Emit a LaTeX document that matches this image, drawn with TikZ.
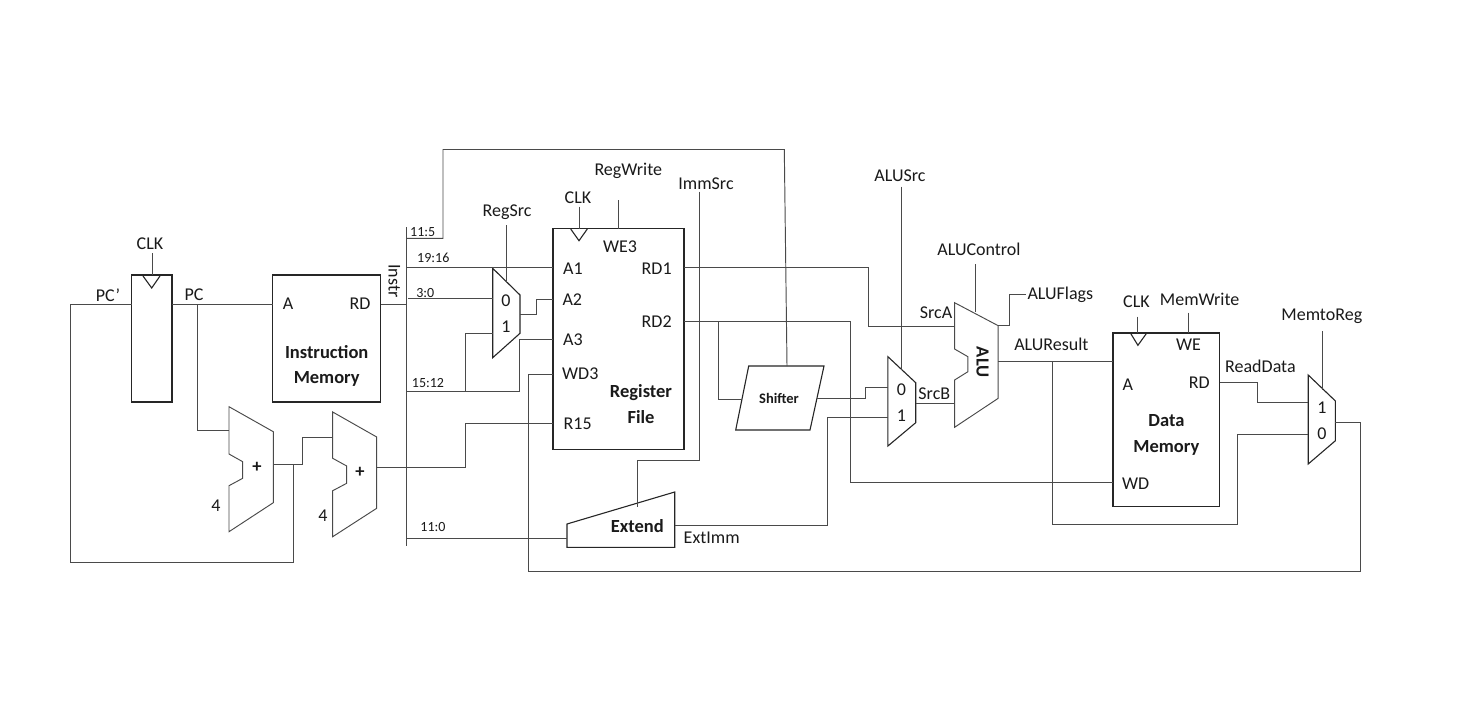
\documentclass[tikz,border=0pt]{standalone}
\usepackage{fontspec}
\setmainfont{Carlito}
\definecolor{wirec}{HTML}{4A4A4A}
\definecolor{boxc}{HTML}{262626}
\definecolor{txtc}{HTML}{1A1A1A}
\tikzset{
  wire/.style={draw=wirec,line width=0.95pt,line join=miter},
  regbox/.style={draw=boxc,line width=1.3pt,inner sep=0pt,outer sep=0pt,anchor=north west},
  outline/.style={draw=boxc,line width=1.1pt,line join=miter},
  lab/.style={inner sep=0pt,outer sep=0pt,text=txtc,font=\fontsize{18}{20}\selectfont},
  tiny lab/.style={inner sep=0pt,outer sep=0pt,text=txtc,font=\fontsize{14}{16}\selectfont},
  boldlab/.style={inner sep=0pt,outer sep=0pt,text=txtc,font=\fontsize{18.5}{20}\selectfont\bfseries},
}
\begin{document}
\begin{tikzpicture}[x=1pt,y=-1pt]
\useasboundingbox[fill=white] (0,0) rectangle (1469,720);

% ---- rectangular blocks
\node[regbox,minimum width=40.5pt,minimum height=127pt] (pcreg) at (131.5,275) {};
\node[regbox,minimum width=108pt,minimum height=127pt] (imem) at (272.7,275) {};
\node[regbox,minimum width=131pt,minimum height=221pt] (rf) at (553,228.5) {};
\node[regbox,minimum width=106.6pt,minimum height=173.7pt] (dmem) at (1113,333) {};

% ---- clock triangles
\draw[outline] (143,276) -- (151.7,288) -- (160,276);
\draw[outline] (570.7,229) -- (579,240.7) -- (587.3,229);
\draw[outline] (1130.7,333.5) -- (1137.9,345.3) -- (1146.4,333.5);

% ---- multiplexers
\draw[outline] (492.7,268.3) -- (520,295) -- (520,333.3) -- (492.7,357.7) -- cycle;
\draw[outline] (887.9,356.7) -- (915.7,382.7) -- (915.7,422.7) -- (887.9,446) -- cycle;
\draw[outline] (1308.2,375) -- (1335.4,401) -- (1335.4,440.7) -- (1308.2,464) -- cycle;

% ---- adders and ALU
\draw[wire] (229,406.7) -- (273.3,431.7) -- (273.3,502.7) -- (229,531.7) -- (229,485.7) -- (242.7,478.3) -- (242.7,461.7) -- (229,454) -- cycle;
\draw[wire] (332.7,412) -- (376.7,437) -- (376.7,508.3) -- (332.7,536.7) -- (332.7,490.7) -- (346.7,483.3) -- (346.7,466) -- (332.7,458.3) -- cycle;
\draw[wire] (954.6,302.7) -- (998.2,325.7) -- (998.2,398.3) -- (954.6,427.3) -- (954.6,380) -- (967.9,371.7) -- (967.9,356.7) -- (954.6,349) -- cycle;

% ---- shifter and extend
\draw[outline] (748.7,366) -- (824,366) -- (810,430) -- (735.7,430) -- cycle;
\draw[outline] (567,524) -- (674.7,492) -- (674.7,547.3) -- (567,547.3) -- cycle;

% ---- connector end points
\coordinate (add1in) at (229,430);
\coordinate (add1out) at (273.3,464.3);
\coordinate (add2in) at (332.7,437.7);
\coordinate (add2out) at (376.7,467.7);
\coordinate (busTop) at (406,227);
\coordinate (busBot) at (406,546);
\coordinate (pcclkTop) at (152,253);
\coordinate (rfclkTop) at (579,206.7);
\coordinate (dmclkTop) at (1137,316.7);
\coordinate (weTop) at (618,200);
\coordinate (memwrTop) at (1188.6,312.7);
\coordinate (regsrcTop) at (506.7,225);
\coordinate (regsrcBot) at (506.7,281.7);
\coordinate (alusrcTop) at (901.4,186.7);
\coordinate (alusrcBot) at (901.4,370);
\coordinate (aluctlTop) at (975.7,264.3);
\coordinate (aluctlBot) at (975.7,311.7);
\coordinate (m2rTop) at (1322.9,331);
\coordinate (m2rBot) at (1322.9,390);
\coordinate (immTop) at (699.7,191.7);
\coordinate (extTop) at (637.7,506.7);
\coordinate (shTop) at (787,366);
\coordinate (shIn) at (742,399);
\coordinate (shOut) at (817,398);
\coordinate (extOut) at (674.7,525.7);
\coordinate (extIn) at (567,538.3);
\coordinate (mux1Out) at (520,314.3);
\coordinate (mux2Out) at (915.7,403.7);
\coordinate (mux3Out) at (1335.4,422);
\coordinate (aluA) at (954.6,326);
\coordinate (aluB) at (954.6,403.7);
\coordinate (aluOut) at (998.2,361.3);
\coordinate (aluFlagOut) at (998.2,325);

% ---- wires
\draw[wire] (pcreg.east|-0,304) -- (imem.west|-0,304);
\draw[wire] (pcreg.west|-0,304) -- (70.7,304) |- (293.3,562.7) -- (293.3,464.3);
\draw[wire] (197,304) |- (add1in);
\draw[wire] (add1out) -- (302.3,464.3) |- (add2in);
\draw[wire] (add2out) -- (465.7,467.7) |- (rf.west|-0,423.5);
\draw[wire] (pcclkTop) -- (pcclkTop|-pcreg.north);
\draw[wire] (imem.east|-0,304) -- (busTop|-0,304);
\draw[wire] (busTop) -- (busBot);
\draw[wire] (busTop|-0,238.3) -| (443,149.5) -- (784.3,149.5) -- (shTop);
\draw[wire] (busTop|-0,267.3) -- (rf.west|-0,267.3);
\draw[wire] (408,298.7) -- (492.7,298.7);
\draw[wire] (busTop|-0,391) -- (519.3,391) |- (rf.west|-0,339.3);
\draw[wire] (465.7,391) |- (492.7,333.3);
\draw[wire] (mux1Out) -- (536.7,314.3) |- (rf.west|-0,299);
\draw[wire] (regsrcTop) -- (regsrcBot);
\draw[wire] (rfclkTop) -- (rfclkTop|-rf.north);
\draw[wire] (weTop) -- (rf.north-|weTop);
\draw[wire] (rf.west|-0,374) -- (528.7,374) |- (1360.4,571) |- (mux3Out);
\draw[wire] (busTop|-0,538.3) -- (extIn);
\draw[wire] (immTop) -- (699.7,460.7) -| (extTop);
\draw[wire] (rf.east|-0,267.3) -- (868.6,267.3) |- (aluA);
\draw[wire] (rf.east|-0,321) -- (850.4,321) |- (dmem.west|-0,482.7);
\draw[wire] (718,321) |- (shIn);
\draw[wire] (shOut) -- (865.7,398) |- (887.9,387.3);
\draw[wire] (extOut) -- (827,525.7) |- (887.9,417.3);
\draw[wire] (alusrcTop) -- (alusrcBot);
\draw[wire] (mux2Out) -- (aluB);
\draw[wire] (aluctlTop) -- (aluctlBot);
\draw[wire] (aluFlagOut) -- (1009.3,325) |- (1026.4,294.3);
\draw[wire] (aluOut) -- (dmem.west|-0,361.3);
\draw[wire] (1052.9,361.3) |- (1237.9,524) |- (1308.2,434);
\draw[wire] (dmclkTop) -- (dmclkTop|-dmem.north);
\draw[wire] (memwrTop) -- (dmem.north-|memwrTop);
\draw[wire] (dmem.east|-0,382) -- (1257,382) |- (1308.2,402.7);
\draw[wire] (m2rTop) -- (m2rBot);

% ---- labels
\node[lab] (lclk1) at (150,244) {CLK};
\node[lab] (lpcp) at (108,295) {PC’};
\node[lab] (lpc) at (194,295) {PC};
\node[lab] (limA) at (288,304) {A};
\node[lab] (limRD) at (360,304) {RD};
\node[boldlab] (limem1) at (326.7,351.7) {Instruction};
\node[boldlab] (limem2) at (326.7,378.5) {Memory};
\node[lab,rotate=-90] (linstr) at (394.3,281) {Instr};
\node[boldlab] (lp1) at (257,467) {+};
\node[boldlab] (lp2) at (360,472.3) {+};
\node[lab] (l41) at (216,506) {4};
\node[lab] (l42) at (323,515.7) {4};
\node[tiny lab] (l115) at (422.7,232.3) {11:5};
\node[tiny lab] (l1916) at (433.3,258) {19:16};
\node[tiny lab] (l30) at (425.3,293) {3:0};
\node[tiny lab] (l1512) at (428,383.3) {15:12};
\node[tiny lab] (l110) at (433,526.7) {11:0};
\node[lab] (lregsrc) at (507,212.5) {RegSrc};
\node[lab] (lm10) at (506,301) {0};
\node[lab] (lm11) at (506,326.7) {1};
\node[lab] (lclk2) at (578,198) {CLK};
\node[lab] (lregwr) at (628.3,170.5) {RegWrite};
\node[lab] (limmsrc) at (706,183.3) {ImmSrc};
\node[lab] (lwe3) at (620,247) {WE3};
\node[lab] (la1) at (573,268.3) {A1};
\node[lab] (la2) at (572.3,299.3) {A2};
\node[lab] (la3) at (573,339.3) {A3};
\node[lab] (lwd3) at (580.3,374) {WD3};
\node[lab] (lr15) at (577.7,424) {R15};
\node[lab] (lrd1) at (656.7,268.3) {RD1};
\node[lab] (lrd2) at (656.7,321.7) {RD2};
\node[boldlab] (lrf1) at (641,392.7) {Register};
\node[boldlab] (lrf2) at (641,417.3) {File};
\node[boldlab,font=\fontsize{14.5}{16}\selectfont\bfseries] (lsh) at (779,398) {Shifter};
\node[boldlab] (lext) at (637.3,525.7) {Extend};
\node[lab] (lextimm) at (711.7,537.5) {ExtImm};
\node[lab] (lalusrc) at (900,175.5) {ALUSrc};
\node[lab] (lm20) at (901.4,389.3) {0};
\node[lab] (lm21) at (901.4,416) {1};
\node[lab] (lsrca) at (936,312.7) {SrcA};
\node[lab] (lsrcb) at (934.3,394) {SrcB};
\node[lab] (lctl) at (979,249) {ALUControl};
\node[lab] (lflags) at (1060.4,294.3) {ALUFlags};
\node[boldlab,rotate=-90] (lalu) at (982.5,362.3) {ALU};
\node[lab] (lres) at (1051.4,344.3) {ALUResult};
\node[lab] (lclk3) at (1136.4,302) {CLK};
\node[lab] (lmemwr) at (1199.6,299.3) {MemWrite};
\node[lab] (lwe) at (1188.6,345) {WE};
\node[lab] (ldmA) at (1127.9,385) {A};
\node[lab] (ldmRD) at (1199.3,382.3) {RD};
\node[lab] (ldmWD) at (1135.7,483.3) {WD};
\node[boldlab] (ldm1) at (1166.4,420.7) {Data};
\node[boldlab] (ldm2) at (1166.4,447.7) {Memory};
\node[lab] (lrdata) at (1260.4,366) {ReadData};
\node[lab] (lm2r) at (1321.8,316.7) {MemtoReg};
\node[lab] (lm31) at (1321.8,407.3) {1};
\node[lab] (lm30) at (1321.8,433.3) {0};
\end{tikzpicture}
\end{document}
